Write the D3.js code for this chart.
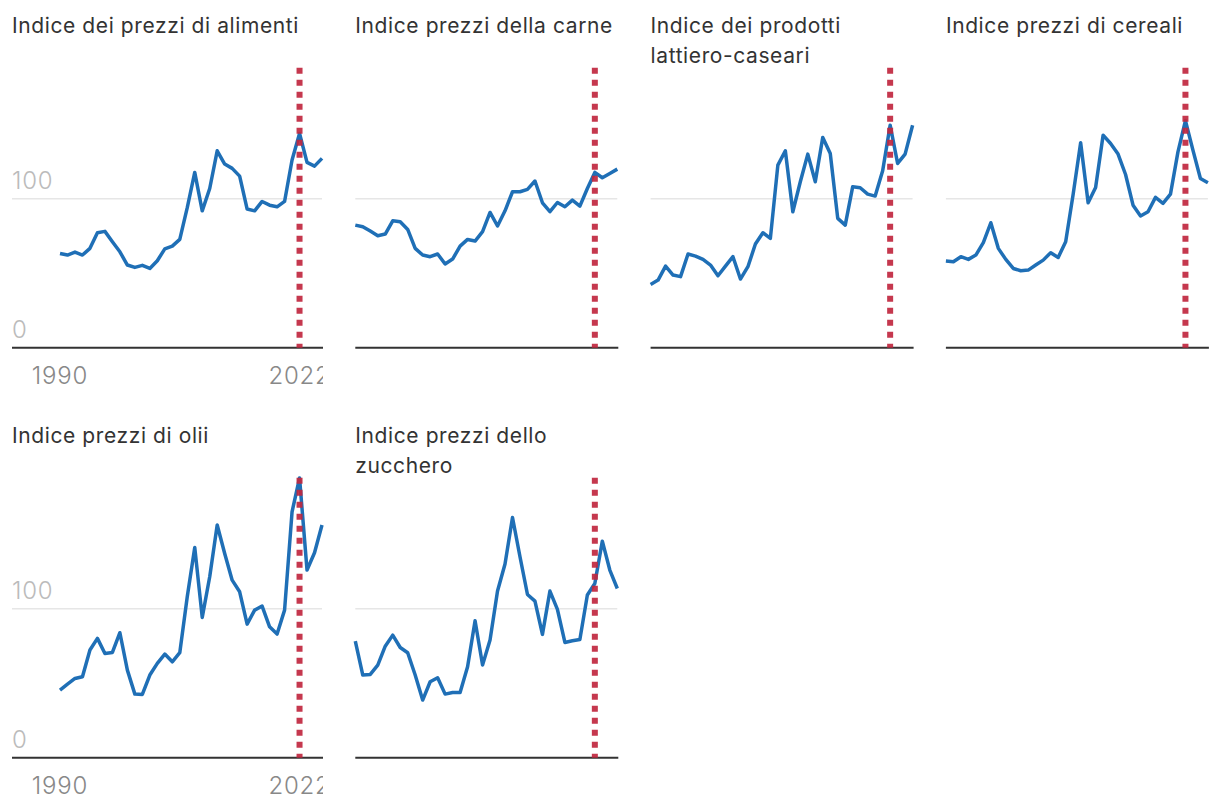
<!DOCTYPE html>
<html>
<head>
<meta charset="utf-8">
<script src="https://cdn.jsdelivr.net/npm/d3@7"></script>
<style>
  body { margin: 0; background: #fff; font-family: Inter, "Noto Sans", sans-serif; }
</style>
</head>
<body>
<div id="chart"></div>
<script>
// FAO price indices (2014-2016 = 100)
var years = [1990, 1991, 1992, 1993, 1994, 1995, 1996, 1997, 1998, 1999,
             2000, 2001, 2002, 2003, 2004, 2005, 2006, 2007, 2008, 2009,
             2010, 2011, 2012, 2013, 2014, 2015, 2016, 2017, 2018, 2019,
             2020, 2021, 2022, 2023, 2024, 2025];

var food    = [63.3, 62.2, 64.2, 62.2, 66.7, 77.2, 78.1, 71.1, 64.4, 55.5,
               53.9, 55.3, 53.2, 58.4, 66.4, 68.2, 72.7, 94.0, 117.7, 91.9,
               106.9, 132.2, 123.3, 120.4, 115.2, 93.1, 91.9, 98.2, 95.7, 94.6,
               98.2, 126.0, 143.8, 124.4, 121.9, 127.1];
var meat    = [82.3, 81.2, 78.3, 75.2, 76.3, 85.2, 84.6, 79.4, 66.7, 62.2,
               61.1, 62.9, 56.2, 59.5, 68.2, 72.7, 71.6, 77.9, 90.8, 81.7,
               91.9, 104.7, 104.7, 106.3, 111.9, 97.3, 91.3, 97.5, 94.6, 99.1,
               95.1, 106.9, 117.7, 114.1, 117.0, 119.9];
var dairy   = [42.5, 45.4, 54.8, 48.8, 47.7, 62.9, 61.5, 59.3, 55.5, 48.3,
               54.8, 61.1, 46.1, 54.4, 69.6, 77.2, 73.4, 122.6, 132.2, 91.3,
               111.4, 130.0, 111.4, 141.2, 130.4, 86.8, 82.3, 108.1, 107.4, 103.1,
               101.8, 118.8, 149.4, 123.7, 130.0, 149.4];
var cereals = [58.2, 57.7, 61.1, 59.3, 62.2, 70.5, 83.9, 66.7, 59.3, 53.2,
               51.7, 52.1, 55.5, 58.8, 63.8, 60.6, 71.1, 103.0, 137.6, 97.3,
               107.6, 142.7, 137.1, 130.0, 116.3, 95.7, 88.4, 91.3, 100.9, 96.9,
               103.1, 131.5, 152.5, 132.7, 113.6, 110.7];
var oils    = [45.4, 49.4, 53.2, 54.4, 72.3, 80.1, 70.0, 70.7, 83.9, 58.8,
               42.7, 42.5, 55.5, 63.3, 69.6, 64.4, 70.5, 108.0, 141.2, 94.2,
               121.5, 156.2, 137.1, 119.2, 111.4, 89.7, 99.1, 101.8, 87.9, 83.0,
               99.1, 165.1, 187.8, 126.0, 137.6, 156.2];
var sugar   = [78.3, 55.5, 55.9, 62.2, 74.9, 82.3, 74.0, 70.5, 55.5, 38.7,
               51.0, 53.7, 42.7, 43.8, 43.8, 61.1, 91.9, 62.2, 79.0, 111.9,
               130.0, 161.3, 134.9, 109.6, 105.1, 82.8, 111.9, 99.6, 77.4, 78.5,
               79.4, 109.2, 117.0, 145.4, 126.0, 113.6];

var titles = ["Indice dei prezzi di alimenti", "Indice prezzi della carne",
              "Indice dei prodotti lattiero-caseari", "Indice prezzi di cereali",
              "Indice prezzi di olii", "Indice prezzi dello zucchero"];
var series = [food, meat, dairy, cereals, oils, sugar];

var yTicks = [0, 100];
var xTicks = [1990, 2022];
var markYear = 2022;

var svgWidth = 1220, svgHeight = 810;
var colStep = 295.3, plotW = 262, firstX = 60, labelX = 12;
var rowStep = 410;

var svg = d3.select("#chart")
  .append("svg")
  .attr("width", svgWidth)
  .attr("height", svgHeight);

// right edge clip for the first column tick labels
svg.append("defs").append("clipPath")
  .attr("id", "clipcol")
  .append("rect")
  .attr("x", 0).attr("y", 0)
  .attr("width", firstX + plotW + 1).attr("height", svgHeight);

function wrap(textSel, maxW) {
  var words = textSel.text().split(" ");
  textSel.text(null);
  var line = [];
  var tspan = textSel.append("tspan").attr("x", textSel.attr("x")).attr("dy", 0);
  words.forEach(function(w) {
    line.push(w);
    tspan.text(line.join(" "));
    if (tspan.node().getComputedTextLength() > maxW && line.length > 1) {
      line.pop();
      tspan.text(line.join(" "));
      line = [w];
      tspan = textSel.append("tspan").attr("x", textSel.attr("x")).attr("dy", 30).text(w);
    }
  });
}

series.forEach(function(vals, i) {
  var col = i % 4, row = Math.floor(i / 4);
  var x0 = firstX + col * colStep;
  var top = row * rowStep;
  var left = col === 0 ? labelX : x0;

  var x = d3.scaleLinear().domain([1990, 2025]).range([x0, x0 + plotW]);
  var y = d3.scaleLinear().domain([0, 188]).range([top + 347.7, top + 67.7]);

  var g = svg.append("g");

  g.append("text")
    .attr("x", left)
    .attr("y", top + 33)
    .attr("font-size", 21)
    .attr("letter-spacing", 0.6)
    .attr("fill", "#333")
    .text(titles[i])
    .call(wrap, x0 + plotW - left + 6);

  // gridline at 100
  g.append("line")
    .attr("x1", left).attr("x2", x0 + plotW)
    .attr("y1", y(100)).attr("y2", y(100))
    .attr("stroke", "#e6e6e6")
    .attr("stroke-width", 1.5);

  // baseline
  g.append("line")
    .attr("x1", left).attr("x2", x0 + plotW + 1)
    .attr("y1", y(0)).attr("y2", y(0))
    .attr("stroke", "#333")
    .attr("stroke-width", 2);

  if (col === 0) {
    g.selectAll(".ylab")
      .data(yTicks)
      .enter()
      .append("text")
      .attr("x", labelX)
      .attr("y", d => y(d) - 10)
      .attr("font-size", 24)
      .attr("letter-spacing", 0.8)
      .attr("font-weight", 300)
      .attr("fill", "#bbb")
      .text(d => d);

    g.append("g")
      .attr("clip-path", "url(#clipcol)")
      .selectAll("text")
      .data(xTicks)
      .enter()
      .append("text")
      .attr("x", d => x(d))
      .attr("y", y(0) + 36)
      .attr("text-anchor", "middle")
      .attr("font-size", 24)
      .attr("letter-spacing", 0.8)
      .attr("font-weight", 300)
      .attr("fill", "#888")
      .text(d => d);
  }

  var line = d3.line()
    .x((d, j) => x(years[j]))
    .y(d => y(d));

  g.append("path")
    .datum(vals)
    .attr("d", line)
    .attr("fill", "none")
    .attr("stroke", "#1f6fb6")
    .attr("stroke-width", 3.5)
    .attr("stroke-linejoin", "round");

  g.append("line")
    .attr("x1", x(markYear)).attr("x2", x(markYear))
    .attr("y1", y(188)).attr("y2", y(0))
    .attr("stroke", "#c0273f")
    .attr("stroke-opacity", 0.92)
    .attr("stroke-width", 6)
    .attr("stroke-dasharray", "6,6");
});
</script>
</body>
</html>
